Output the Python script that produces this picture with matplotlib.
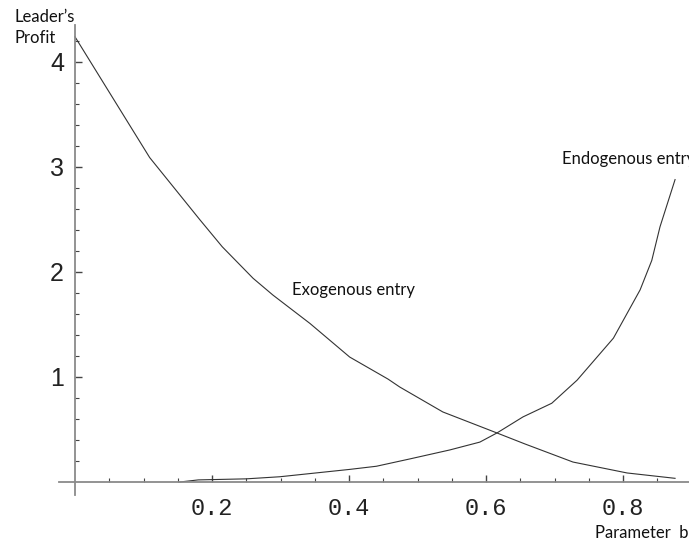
import matplotlib
matplotlib.use("Agg")
import matplotlib.pyplot as plt
from matplotlib.ticker import FixedLocator

# Data
exo_b = [0.0, 0.036, 0.109, 0.182, 0.215, 0.26, 0.289, 0.343, 0.401, 0.457,
         0.474, 0.537, 0.616, 0.657, 0.727, 0.806, 0.876]
exo_profit = [4.24, 3.86, 3.09, 2.50, 2.24, 1.94, 1.78, 1.51, 1.19, 0.98,
              0.905, 0.667, 0.467, 0.362, 0.19, 0.086, 0.035]

endo_b = [0.153, 0.18, 0.25, 0.299, 0.401, 0.44, 0.489, 0.547, 0.591, 0.616,
          0.654, 0.696, 0.733, 0.786, 0.825, 0.842, 0.854, 0.876]
endo_profit = [0.0, 0.02, 0.03, 0.05, 0.12, 0.15, 0.22, 0.305, 0.38, 0.467,
               0.62, 0.75, 0.97, 1.37, 1.83, 2.11, 2.43, 2.88]

x_ticks = [0.2, 0.4, 0.6, 0.8]
x_tick_labels = ["0.2", "0.4", "0.6", "0.8"]
y_ticks = [1, 2, 3, 4]
y_tick_labels = ["1", "2", "3", "4"]

W, H = 689, 543
fig = plt.figure(figsize=(W / 100, H / 100), dpi=100)
ax = fig.add_axes([0, 0, 1, 1])
ax.patch.set_alpha(0)

# pixel mapping: px = 75 + 685*x ; py = 482 - 105*y
sx, ox = 685.0, 75.0
sy, oy = 105.0, 482.0
ax.set_xlim(-ox / sx, (W - ox) / sx)
ax.set_ylim((oy - H) / sy, oy / sy)

line_col = "#333333"
ax.plot(exo_b, exo_profit, color=line_col, lw=0.8)
ax.plot(endo_b, endo_profit, color=line_col, lw=0.8)

axis_col = "#8a8a8a"
for s in ["top", "right"]:
    ax.spines[s].set_visible(False)
ax.spines["left"].set_position(("data", 0))
ax.spines["bottom"].set_position(("data", 0))
ax.spines["left"].set_bounds(-0.12, 4.35)
ax.spines["bottom"].set_bounds(-0.023, 0.9)
for s in ["left", "bottom"]:
    ax.spines[s].set_color(axis_col)
    ax.spines[s].set_linewidth(1.3)

ax.xaxis.set_major_locator(FixedLocator(x_ticks))
ax.set_xticklabels(x_tick_labels)
ax.xaxis.set_minor_locator(FixedLocator([0.05 * i for i in range(1, 18) if i % 4 != 0]))
ax.yaxis.set_major_locator(FixedLocator(y_ticks))
ax.set_yticklabels(y_tick_labels)
ax.yaxis.set_minor_locator(FixedLocator([0.2 * i for i in range(1, 22) if i % 5 != 0]))

ax.tick_params(axis="both", which="major", direction="in", length=5, width=1.0, color="#444444")
ax.tick_params(axis="both", which="minor", direction="in", length=3, width=0.8, color="#444444")
ax.tick_params(axis="x", which="major", pad=11, labelsize=17)
ax.tick_params(axis="y", which="major", pad=8, labelsize=18)
for lab in ax.get_xticklabels():
    lab.set_family("Liberation Mono")
    lab.set_color("#222222")
for lab in ax.get_yticklabels():
    lab.set_family("Liberation Sans")
    lab.set_color("#222222")

tf = "Lato"
fs = 12
fig.text(15 / W, 1 - 17 / H, "Leader\u2019s", family=tf, fontsize=fs, va="center", ha="left", color="#111111")
fig.text(15 / W, 1 - 38 / H, "Profit", family=tf, fontsize=fs, va="center", ha="left", color="#111111")
fig.text(595 / W, 1 - 533 / H, "Parameter  b", family=tf, fontsize=fs, va="center", ha="left", color="#111111")
ax.text(0.317, 1.83, "Exogenous entry", family=tf, fontsize=fs, va="center", ha="left", color="#111111")
ax.text(0.711, 3.08, "Endogenous entry", family=tf, fontsize=fs, va="center", ha="left", color="#111111", clip_on=False)

fig.savefig("out.png", dpi=100)
